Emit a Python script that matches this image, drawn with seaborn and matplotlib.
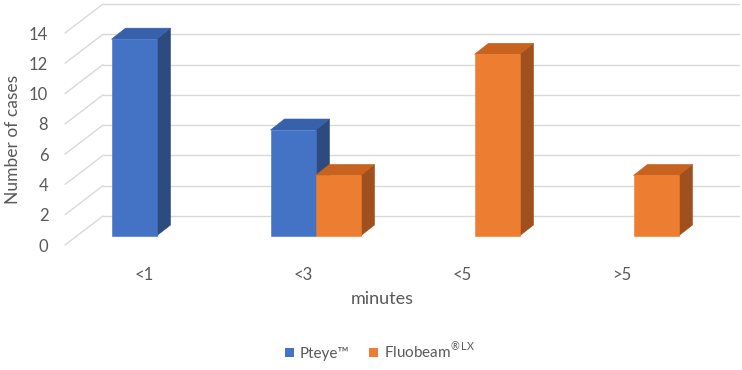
import numpy as np
import pandas as pd
import matplotlib
matplotlib.use("Agg")
import matplotlib.pyplot as plt
import seaborn as sns
from matplotlib.patches import Polygon, Patch
from matplotlib.lines import Line2D

# ---- data ----
categories = ["<1", "<3", "<5", ">5"]
pteye = [13, 7, 0, 0]
fluobeam = [0, 4, 12, 4]
series = ["Pteye\u2122", "Fluobeam"]
legend_labels = ["Pteye\u2122", "Fluobeam$^{\\mathregular{\u00ae\\,LX}}$"]
y_ticks = list(range(0, 15, 2))
x_title = "minutes"
y_title = "Number of cases"

df = pd.DataFrame({
    "minutes": categories * 2,
    "cases": pteye + fluobeam,
    "series": [series[0]] * len(categories) + [series[1]] * len(categories),
})

# ---- styling ----
blue, orange = "#4472C4", "#ED7D31"
side_cols = {blue: "#2E4B80", orange: "#A0501E"}
top_cols = {blue: "#3761AB", orange: "#C8621F"}
grid_col = "#D9D9D9"
txt_col = "#595959"

sns.set_theme(style="white")
plt.rcParams["font.family"] = ["Lato", "DejaVu Sans"]

W, H = 742, 370
fig = plt.figure(figsize=(W / 100, H / 100), dpi=100)
fig.patch.set_facecolor("white")
# axes = front plane of the 3D box
ax = fig.add_axes([65 / W, 1 - 245 / H, 636 / W, 212 / H])

sns.barplot(data=df, x="minutes", y="cases", hue="series", order=categories,
            hue_order=series, palette=[blue, orange], width=90 / 159,
            saturation=1, errorbar=None, legend=False, ax=ax)

ax.set_xlim(-0.5, len(categories) - 0.5)
ax.set_ylim(0, 14)
for s in ax.spines.values():
    s.set_visible(False)
ax.grid(False)

# pixel -> data unit conversions
ppx = (ax.transData.transform((1, 0)) - ax.transData.transform((0, 0)))[0]
ppy = (ax.transData.transform((0, 1)) - ax.transData.transform((0, 0)))[1]

wall_dx, wall_dy = 38 / ppx, 29 / ppy      # back wall offset
front_dx, front_dy = 12 / ppx, 9 / ppy     # bar front face offset
depth_dx, depth_dy = 14 / ppx, 11 / ppy    # bar depth

# back wall gridlines + floor/side diagonals
x_left, x_right = -0.5, len(categories) - 0.5
for v in y_ticks:
    ax.add_line(Line2D([x_left + wall_dx, x_right + wall_dx], [v + wall_dy, v + wall_dy],
                       color=grid_col, lw=1.0, zorder=0.5, clip_on=False))
    ax.add_line(Line2D([x_left, x_left + wall_dx], [v, v + wall_dy],
                       color=grid_col, lw=1.0, zorder=0.5, clip_on=False))

# 3D bars
bars = sorted([p for p in ax.patches], key=lambda p: p.get_x())
for i, p in enumerate(bars):
    h = p.get_height()
    if h <= 0:
        p.set_visible(False)
        continue
    fc = matplotlib.colors.to_hex(p.get_facecolor())
    col = blue if fc.lower() == blue.lower() else orange
    x0 = p.get_x() + front_dx
    x1 = x0 + p.get_width()
    yb = front_dy
    yt = h + front_dy
    p.set_x(x0)
    p.set_y(yb)
    p.set_linewidth(0.4)
    p.set_edgecolor(col)
    p.set_clip_on(False)
    z = 2 + i * 0.1
    p.set_zorder(z + 0.05)
    side = Polygon([(x1, yb), (x1, yt), (x1 + depth_dx, yt + depth_dy), (x1 + depth_dx, yb + depth_dy)],
                   closed=True, facecolor=side_cols[col], edgecolor=side_cols[col], lw=0.4,
                   zorder=z, clip_on=False)
    top = Polygon([(x0, yt), (x1, yt), (x1 + depth_dx, yt + depth_dy), (x0 + depth_dx, yt + depth_dy)],
                  closed=True, facecolor=top_cols[col], edgecolor=top_cols[col], lw=0.4,
                  zorder=z + 0.02, clip_on=False)
    ax.add_patch(side)
    ax.add_patch(top)

ax.set_yticks(y_ticks)
ax.tick_params(axis="both", length=0, labelsize=12, labelcolor=txt_col)
ax.tick_params(axis="y", pad=12)
ax.tick_params(axis="x", pad=16)
ax.set_xlabel("")
ax.set_ylabel("")

fig.text(13 / W, 1 - 139 / H, y_title, rotation=90, ha="center", va="center",
         fontsize=12.5, color=txt_col)
fig.text(382 / W, 1 - 299 / H, x_title, ha="center", va="center",
         fontsize=13, color=txt_col)

handles = [Patch(facecolor=blue, edgecolor="none"), Patch(facecolor=orange, edgecolor="none")]
fig.legend(handles, legend_labels, loc="center", bbox_to_anchor=(380 / W, 1 - 351 / H),
           ncol=2, frameon=False, handlelength=0.6, handleheight=0.6,
           handletextpad=0.35, columnspacing=1.3, fontsize=11, labelcolor=txt_col)

fig.savefig("out.png", dpi=100, facecolor="white")
